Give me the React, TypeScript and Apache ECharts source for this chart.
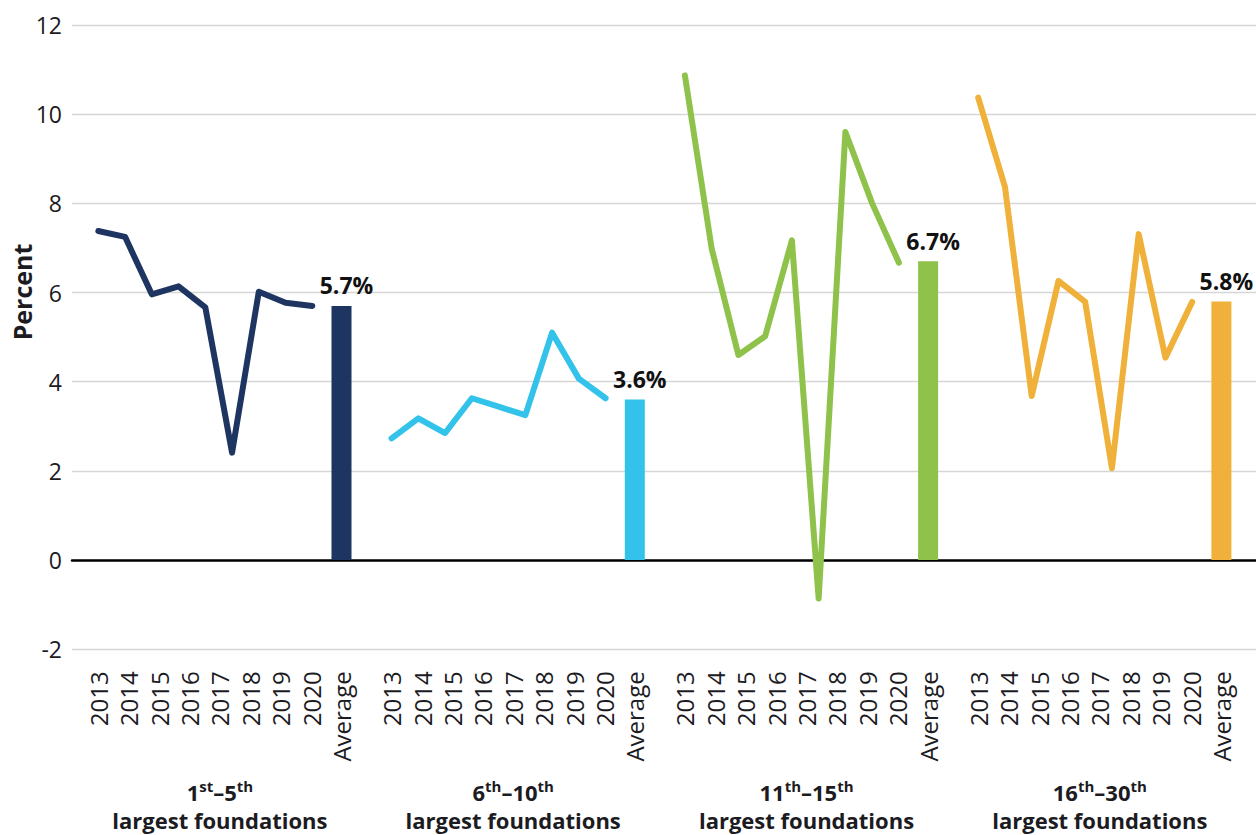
import React, { useEffect, useRef } from "react";
import * as echarts from "echarts";

const years = ["2013", "2014", "2015", "2016", "2017", "2018", "2019", "2020"];
const categories = [...years, "Average"];
const linePoints = ["p1", "p2", "p3", "p4", "p5", "p6", "p7", "p8", "p9"];

const top1to5 = [7.38, 7.25, 5.96, 6.14, 5.67, 2.41, 6.02, 5.77, 5.7];
const top6to10 = [2.73, 3.18, 2.85, 3.63, 3.44, 3.25, 5.1, 4.07, 3.63];
const top11to15 = [10.87, 6.99, 4.6, 5.02, 7.17, -0.86, 9.6, 8.0, 6.67];
const top16to30 = [10.37, 8.37, 3.68, 6.26, 5.79, 2.06, 7.31, 4.54, 5.79];
const averages = [5.7, 3.6, 6.7, 5.8];

const groupRanks = [
  ["1", "st", "5", "th"],
  ["6", "th", "10", "th"],
  ["11", "th", "15", "th"],
  ["16", "th", "30", "th"],
];
const groupSubtitle = "largest foundations";
const yTicks = { min: -2, max: 12, interval: 2 };

const colors = ["#1f3561", "#33c3ea", "#8fc24a", "#f0b13a"];
const lines = [top1to5, top6to10, top11to15, top16to30];

const FONT = "Open Sans";
const TEXT = "#1c1b1f";

export default function App() {
  const ref = useRef<HTMLDivElement>(null);
  useEffect(() => {
    if (!ref.current) return;
    const chart = echarts.init(ref.current, null, { renderer: "svg" });
    const top = 25;
    const bottom = 185.7;
    const slot = 30.4;
    const firstCenter = 98.3;
    const groupStep = 293.3;
    const lineSpan = 214;

    const gridBase = { top, bottom, outerBoundsMode: "none", containLabel: false };
    const grids: any[] = [{ left: 72, right: 0, ...gridBase }];
    const xAxes: any[] = [
      {
        gridIndex: 0,
        type: "value",
        min: 0,
        max: 1,
        axisLine: { show: true, onZero: true, lineStyle: { color: "#000", width: 2.5 } },
        axisTick: { show: false },
        axisLabel: { show: false },
        splitLine: { show: false },
      },
    ];
    const yAxes: any[] = [
      {
        gridIndex: 0,
        type: "value",
        ...yTicks,
        axisLine: { show: false },
        axisTick: { show: false },
        axisLabel: { fontSize: 23, color: TEXT, margin: 10, fontFamily: FONT },
        splitLine: { lineStyle: { color: "#d6d6d6", width: 1.4 } },
      },
    ];
    const series: any[] = [
      { type: "line", xAxisIndex: 0, yAxisIndex: 0, data: [], silent: true },
    ];

    for (let g = 0; g < 4; g++) {
      const c0 = firstCenter + groupStep * g;
      grids.push({ left: c0 - slot / 2, width: slot * 9, ...gridBase });
    }
    for (let g = 0; g < 4; g++) {
      const c0 = firstCenter + groupStep * g;
      grids.push({ left: c0, width: lineSpan, ...gridBase });
    }
    for (let g = 0; g < 4; g++) {
      const r = groupRanks[g];
      xAxes.push({
        gridIndex: g + 1,
        type: "category",
        data: categories,
        position: "bottom",
        axisLine: { show: false, onZero: false },
        axisTick: { show: false },
        axisLabel: {
          rotate: 90,
          margin: 22,
          fontSize: 24,
          color: TEXT,
          fontFamily: FONT,
          interval: 0,
        },
        name: `{b|${r[0]}}{s|${r[1]}}{b|–${r[2]}}{s|${r[3]}}\n{b|${groupSubtitle}}`,
        nameLocation: "middle",
        nameGap: 129,
        nameTextStyle: {
          rich: {
            b: { fontSize: 22, fontWeight: "bold", color: TEXT, fontFamily: FONT, lineHeight: 28 },
            s: {
              fontSize: 15,
              fontWeight: "bold",
              color: TEXT,
              fontFamily: FONT,
              verticalAlign: "top",
              lineHeight: 22,
            },
          },
        },
      });
      yAxes.push({ gridIndex: g + 1, type: "value", ...yTicks, show: false });
      series.push({
        type: "bar",
        xAxisIndex: g + 1,
        yAxisIndex: g + 1,
        barWidth: 20,
        itemStyle: { color: colors[g] },
        data: categories.map((c) => (c === "Average" ? averages[g] : null)),
        label: {
          show: true,
          position: "top",
          distance: 9,
          offset: [5, 0],
          fontSize: 23,
          fontWeight: "bold",
          color: "#111",
          fontFamily: FONT,
          formatter: (p: any) => `${Number(p.value).toFixed(1)}%`,
        },
      });
    }
    for (let g = 0; g < 4; g++) {
      xAxes.push({
        gridIndex: g + 5,
        type: "category",
        data: linePoints,
        boundaryGap: false,
        show: false,
      });
      yAxes.push({ gridIndex: g + 5, type: "value", ...yTicks, show: false });
      series.push({
        type: "line",
        xAxisIndex: g + 5,
        yAxisIndex: g + 5,
        data: lines[g],
        symbol: "none",
        showSymbol: false,
        itemStyle: { color: colors[g] },
        lineStyle: { color: colors[g], width: 6, cap: "round", join: "round" },
        z: 3,
      });
    }

    chart.setOption({
      animation: false,
      backgroundColor: "#ffffff",
      textStyle: { fontFamily: FONT },
      grid: grids,
      xAxis: xAxes,
      yAxis: yAxes,
      series,
      graphic: [
        {
          type: "text",
          x: 22,
          y: 292,
          rotation: Math.PI / 2,
          style: {
            text: "Percent",
            fontSize: 25,
            fontWeight: "bold",
            fill: TEXT,
            fontFamily: FONT,
            textAlign: "center",
            textVerticalAlign: "middle",
          },
        },
      ],
    });
    return () => chart.dispose();
  }, []);
  return (
    <div
      ref={ref}
      style={{ position: "absolute", left: 0, top: 0, width: 1256, height: 835 }}
    />
  );
}
